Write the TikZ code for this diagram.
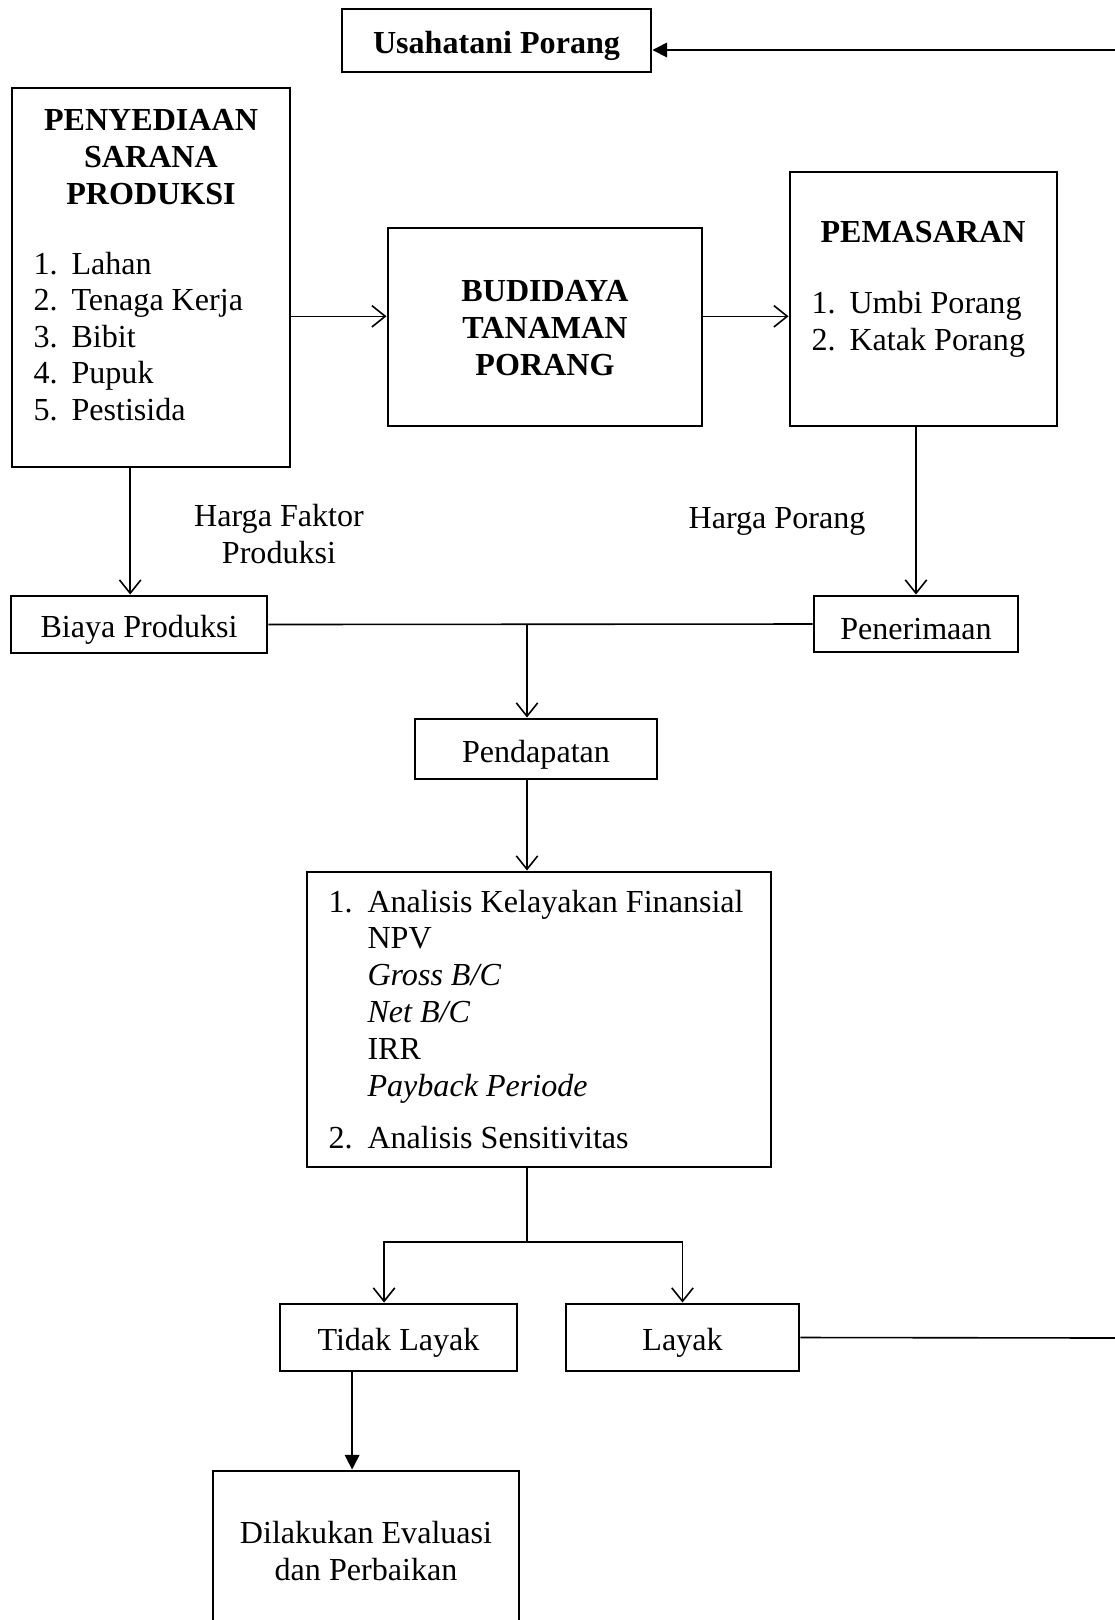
\documentclass[tikz,border=0pt]{standalone}
\usepackage{fontspec}
\setmainfont{Liberation Serif}
\usetikzlibrary{arrows.meta,fit}
\tikzset{>={Straight Barb[length=5pt,width=8pt]}}
\tikzset{box/.style={draw,line width=1.1pt,inner sep=0pt},
  every label/.style={yshift=-2pt},
  item/.style={inner sep=0pt,anchor=base west},
  conn/.style={line width=0.6pt}}

\begin{document}
\begin{tikzpicture}[x=0.374pt,y=-0.374pt,font=\fontsize{12}{13.8}\selectfont]
\useasboundingbox (0,0) rectangle (1115,1620);
\clip (0,0) rectangle (1115,1620);
\node[box,fit={(342,9) (651,72)},label=center:{\bfseries Usahatani Porang}] (usaha) {};
\node[box,fit={(12,88) (290,467)}] (pny) {};
\node[box,fit={(388,228) (702,426)},label={[align=center,yshift=1.5pt]center:{\bfseries BUDIDAYA\\\bfseries TANAMAN\\\bfseries PORANG}}] (budi) {};
\node[box,fit={(790,172) (1057,426)}] (pem) {};
\node[box,fit={(11,596) (267,653)},label=center:{Biaya Produksi}] (biaya) {};
\node[box,fit={(814,596) (1018,652)},label=center:{Penerimaan}] (pen) {};
\node[box,fit={(415,719) (657,779)},label=center:{Pendapatan}] (pend) {};
\node[box,fit={(307,872) (771,1167)}] (ana) {};
\node[box,fit={(280,1304) (517,1371)},label=center:{Tidak Layak}] (tl) {};
\node[box,fit={(566,1304) (799,1371)},label=center:{Layak}] (lay) {};
\node[box,fit={(213,1471) (519,1660)}] (dil) {};

\node[align=center,inner sep=0pt] (pnyT) at (151,157) {\bfseries PENYEDIAAN\\\bfseries SARANA\\\bfseries PRODUKSI};
\foreach \t [count=\i] in {Lahan, Tenaga Kerja, Bibit, Pupuk, Pestisida} {
  \node[item] at (33,{274+36.6*(\i-1)}) {\i.};
  \node[item] at (71,{274+36.6*(\i-1)}) {\t};
}
\node[inner sep=0pt] (pemT) at (923,232) {\bfseries PEMASARAN};
\foreach \t [count=\i] in {Umbi Porang, Katak Porang} {
  \node[item] at (811,{313+37*(\i-1)}) {\i.};
  \node[item] at (849,{313+37*(\i-1)}) {\t};
}
\node[item] at (328,912) {1.};
\node[item] (a1) at (367,912) {Analisis Kelayakan Finansial};
\node[item] at (367,948) {NPV};
\node[item] at (367,985) {\itshape Gross B/C};
\node[item] at (367,1022) {\itshape Net B/C};
\node[item] at (367,1059) {IRR};
\node[item] at (367,1096) {\itshape Payback Periode};
\node[item] at (328,1148) {2.};
\node[item] (a2) at (367,1148) {Analisis Sensitivitas};
\node[align=center,inner sep=0pt] (dilT) at (366,1551) {Dilakukan Evaluasi\\dan Perbaikan};
\node[align=center,inner sep=0pt] (hfp) at (279,534) {Harga Faktor\\Produksi};
\node[inner sep=0pt] (hp) at (777,521) {Harga Porang};

\coordinate (feedT) at (1115,50);
\coordinate (feedB) at (1115,1338);
\coordinate (j1) at (527,624);
\coordinate (j2) at (527,1242);

\draw[conn,-{Triangle[length=5.5pt,width=5.5pt]}] (feedT) -- (feedT -| usaha.east);
\draw[conn,->] ([yshift=4pt]budi.west -| pny.east) -- ([yshift=4pt]budi.west);
\draw[conn,->] ([yshift=4pt]budi.east) -- ([yshift=4pt]budi.east -| pem.west);
\draw[conn,->] ([xshift=-3.3pt]biaya.north |- pny.south) -- ([xshift=-3.3pt]biaya.north);
\draw[conn,->] (pen.north |- pem.south) -- (pen.north);
\draw[conn] (biaya.east) -- (pen.west);
\draw[conn,->] (j1) -- (j1 |- pend.north);
\draw[conn,->] (j1 |- pend.south) -- (j1 |- ana.north);
\draw[conn] (j1 |- ana.south) -- (j2);
\draw[conn,->] (j2) -| ([xshift=-5.4pt]tl.north);
\draw[conn,->] (j2) -| (lay.north);
\draw[conn] (lay.east) -- (feedB);
\draw[conn,-{Triangle[length=5.5pt,width=5.5pt]}] ([xshift=-5.2pt]dil.north |- tl.south) -- ([xshift=-5.2pt]dil.north);
\end{tikzpicture}
\end{document}
